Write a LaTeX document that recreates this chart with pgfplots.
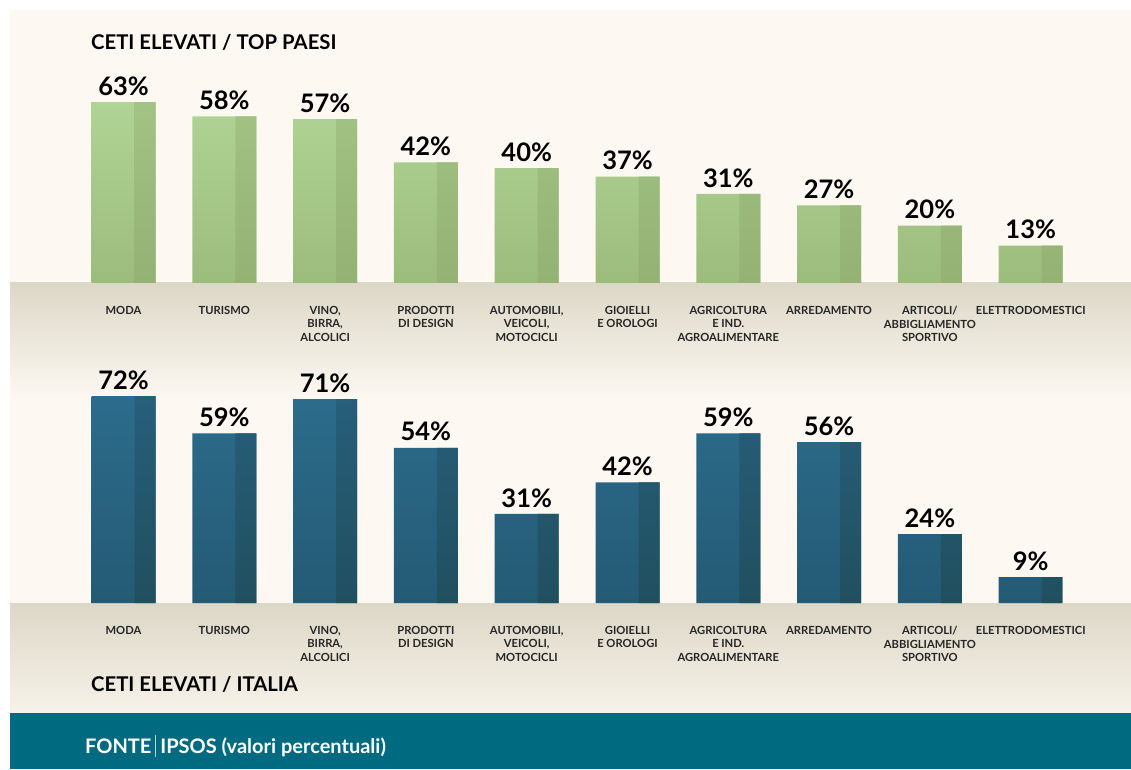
\documentclass[border=0pt]{standalone}
\usepackage{fontspec}
\setmainfont{Lato}
\usepackage{pgfplots}
\pgfplotsset{compat=1.18}
\definecolor{cream}{HTML}{FDF8F2}
\definecolor{band}{HTML}{DCD8C7}
\definecolor{bandend}{HTML}{F7F2E9}
\definecolor{tealfoot}{HTML}{006B80}
\definecolor{gLa}{HTML}{B0D495}
\definecolor{gLb}{HTML}{9CBC7C}
\definecolor{gDa}{HTML}{A2C384}
\definecolor{gDb}{HTML}{93B273}
\definecolor{bLa}{HTML}{2C6C8C}
\definecolor{bLb}{HTML}{245A74}
\definecolor{bDa}{HTML}{275E7A}
\definecolor{bDb}{HTML}{20505F}
\pgfplotstableread{
x v
0 63
1 58
2 57
3 42
4 40
5 37
6 31
7 27
8 20
9 13
}\toptable
\pgfplotstableread{
x v
0 72
1 59
2 71
3 54
4 31
5 42
6 59
7 56
8 24
9 9
}\bottable
\pgfplotsset{mybars/.style={
  x=100.8pt, y=2.873pt, xmin=-0.5, xmax=9.5, ymin=0,
  /pgf/number format/assume math mode=true,
  axis line style={draw=none}, ytick=\empty,
  xtick={0,...,9}, major tick length=0pt,
  xticklabels={MODA, TURISMO, {VINO,\\BIRRA,\\ALCOLICI}, {PRODOTTI\\DI DESIGN},
    {AUTOMOBILI,\\VEICOLI,\\MOTOCICLI}, {GIOIELLI\\E OROLOGI},
    {AGRICOLTURA\\E IND.\\AGROALIMENTARE}, ARREDAMENTO,
    {ARTICOLI/\\ABBIGLIAMENTO\\SPORTIVO}, ELETTRODOMESTICI},
  xticklabel style={font=\bfseries\fontsize{11.2}{13.5}\selectfont, align=center,
    anchor=north, yshift=-23pt, inner sep=0pt, text=black!85},
  clip=false, anchor=south west,
  nodes near coords style={font=\bfseries\fontsize{25.5}{25.5}\selectfont, anchor=south,
    inner sep=0pt, yshift=6.5pt, text=black},
}}
\begin{document}
\begin{tikzpicture}[x=1pt,y=1pt]
\path[use as bounding box, fill=white] (0,0) rectangle (1131,769);
% card
\fill[cream] (10,56) rectangle (1131,759);
% bands
\shade[top color=band, bottom color=cream] (10,369) rectangle (1131,486);
\shade[top color=band, bottom color=bandend] (10,56) rectangle (1131,166);
% footer
\fill[tealfoot] (10,0) rectangle (1131,56);
\node[anchor=west, text=white, font=\bfseries\fontsize{20}{20}\selectfont, inner sep=0pt]
  at (85,23) {FONTE\hspace{4pt}{\color{white!70!tealfoot}\rule[-4pt]{0.9pt}{22pt}}\hspace{4pt}IPSOS (valori percentuali)};
% titles
\node[anchor=west, font=\bfseries\fontsize{20.3}{20.3}\selectfont, inner sep=0pt] at (91,727) {CETI ELEVATI / TOP PAESI};
\node[anchor=west, font=\bfseries\fontsize{20.3}{20.3}\selectfont, inner sep=0pt] at (91,85) {CETI ELEVATI / ITALIA};
% top chart
\begin{axis}[mybars, at={(73.1pt,486pt)}, ymax=70]
\addplot[ybar, bar width=64pt, bar shift=0pt, draw=none, top color=gLa, bottom color=gLb,
  nodes near coords={\pgfmathprintnumber{\pgfplotspointmeta}\%}] table[x=x,y=v] {\toptable};
\addplot[ybar, bar width=21pt, bar shift=21.5pt, draw=none, top color=gDa, bottom color=gDb] table[x=x,y=v] {\toptable};
\end{axis}
% bottom chart
\begin{axis}[mybars, at={(73.1pt,166pt)}, ymax=80]
\addplot[ybar, bar width=64pt, bar shift=0pt, draw=none, top color=bLa, bottom color=bLb,
  nodes near coords={\pgfmathprintnumber{\pgfplotspointmeta}\%}] table[x=x,y=v] {\bottable};
\addplot[ybar, bar width=21pt, bar shift=21.5pt, draw=none, top color=bDa, bottom color=bDb] table[x=x,y=v] {\bottable};
\end{axis}
\end{tikzpicture}
\end{document}
